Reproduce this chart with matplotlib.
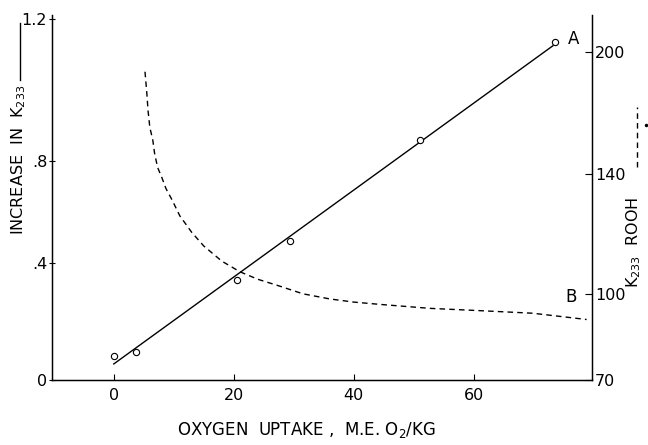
import numpy as np
import matplotlib.pyplot as plt
from matplotlib.lines import Line2D

# measured points (circles) for increase in K233
uptake = [0, 3.7, 20.5, 29.3, 51.0, 73.5]
k233 = [0.082, 0.096, 0.342, 0.486, 0.86, 1.133]

# fitted straight line A
line_x = [0, 73.2]
line_y = [0.055, 1.124]

# dashed curve B : K233 / ROOH
ratio_x = [5.2, 5.5, 5.7, 6.0, 6.5, 6.8, 7.3, 8.0, 8.7, 9.7, 11.0, 13.0, 15.0,
           18.0, 21.0, 24.0, 27.7, 31.5, 36.0, 40.0, 44.3, 52.7, 61.0, 69.8, 78.8]
ratio_y = [190.1, 179.7, 171.2, 162.8, 156.4, 149.9, 143.0, 138.7, 135.0, 131.3,
           126.0, 120.5, 116.0, 111.0, 107.5, 105.0, 102.7, 100.2, 98.4, 97.3,
           96.5, 95.1, 94.3, 93.4, 91.2]

left_ticks = [0, 0.4, 0.8, 1.2]
left_labels = ["0", ".4", ".8", "1.2"]
right_ticks = [70, 100, 140, 200]
right_labels = ["70", "100", "140", "200"]
x_ticks = [0, 20, 40, 60]

# the hand drawn axes are not evenly spaced, so use piecewise scales
lk_val = [-1.0, 0, 0.4, 0.8, 1.2, 2.0]
lk_pos = [-292.5, 0, 117, 219, 362, 648]
rk_val = [0, 70, 100, 140, 200, 400]
rk_pos = [-198, 0, 85, 205, 326, 730]


def lfwd(v):
    return np.interp(v, lk_val, lk_pos)


def linv(p):
    return np.interp(p, lk_pos, lk_val)


def rfwd(v):
    return np.interp(v, rk_val, rk_pos)


def rinv(p):
    return np.interp(p, rk_pos, rk_val)


plt.rcParams['font.family'] = 'DejaVu Sans'
fig = plt.figure(figsize=(6.48, 4.45), dpi=100)
ax = fig.add_axes([52/648, 1-380/445, 540/648, 365/445])
ax.set_yscale('function', functions=(lfwd, linv))
ax.set_xlim(-10.3, 79.7)
ax.set_ylim(0, 1.21)

ax.plot(line_x, line_y, color='k', lw=1.0)
ax.plot(uptake, k233, 'o', mfc='white', mec='k', ms=4.5, mew=0.8, zorder=3)
ax.text(75.7, 1.144, "A", fontsize=12, va='center', ha='left')

ax.set_yticks(left_ticks)
ax.set_yticklabels(left_labels)
ax.set_xticks(x_ticks)
ax.tick_params(axis='y', direction='inout', length=5, pad=1, labelsize=11.5)
ax.tick_params(axis='x', direction='in', length=4, pad=6, labelsize=11.5)
ax.spines['top'].set_visible(False)
for s in ['left', 'bottom', 'right']:
    ax.spines[s].set_linewidth(1.0)

ax2 = ax.twinx()
ax2.set_yscale('function', functions=(rfwd, rinv))
ax2.set_ylim(70, 218)
ax2.plot(ratio_x, ratio_y, color='k', lw=1.0, ls=(0, (4, 3)))
ax2.text(77.2, 95.8, "B", fontsize=12, va='bottom', ha='right')
ax2.set_yticks(right_ticks)
ax2.set_yticklabels(right_labels)
ax2.tick_params(axis='y', direction='in', length=5, pad=2, labelsize=11.5)
ax2.spines['top'].set_visible(False)

fig.text(306/648, 1-430/445, "OXYGEN  UPTAKE ,  M.E. O$_2$/KG", fontsize=12,
         ha='center', va='center')
fig.text(19/648, 1-160/445, "INCREASE  IN  K$_{233}$", fontsize=11.5,
         rotation=90, ha='center', va='center')
fig.add_artist(Line2D([20/648, 20/648], [1-80/445, 1-23/445], color='k', lw=1.0))
fig.text(634/648, 1-242/445, "K$_{233}$  ROOH", fontsize=11.5,
         rotation=90, ha='center', va='center')
fig.add_artist(Line2D([637/648, 637/648], [1-167/445, 1-107/445], color='k', lw=1.0,
                      ls=(0, (4, 3))))
fig.add_artist(Line2D([646/648], [1-125/445], marker='o', ms=1.5, color='k'))

fig.savefig("out.png", dpi=100)
